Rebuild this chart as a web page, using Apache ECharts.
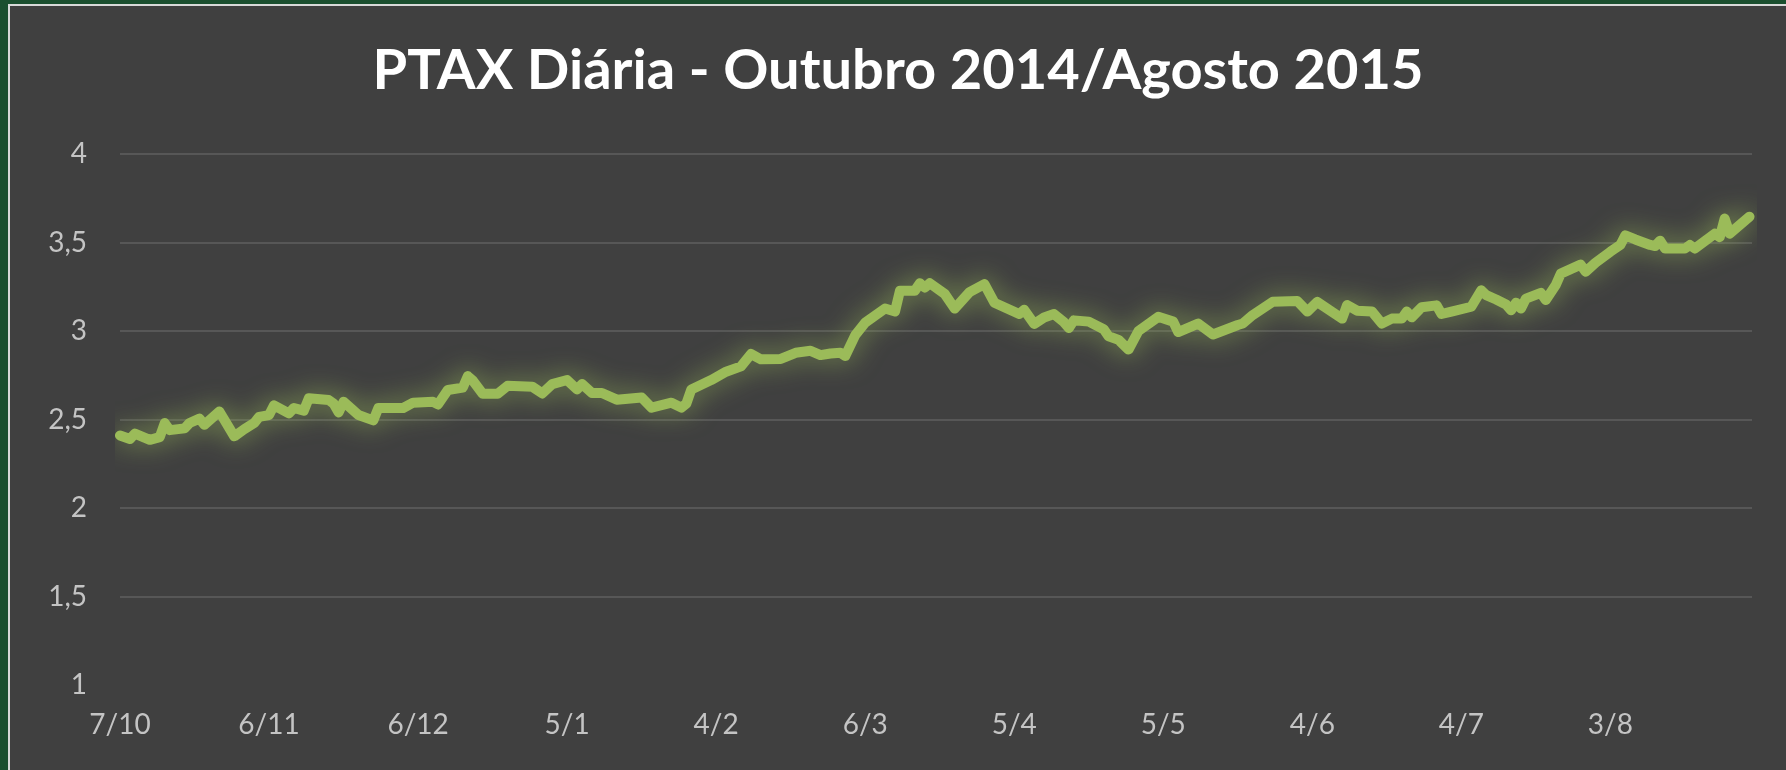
<!DOCTYPE html>
<html>
<head>
<meta charset="utf-8">
<title>PTAX Diária</title>
<script src="https://cdn.jsdelivr.net/npm/echarts@6/dist/echarts.min.js"></script>
<style>
  html, body { margin: 0; padding: 0; width: 1786px; height: 770px; background: #1b4f2f; overflow: hidden; }
  #frame {
    position: absolute; left: 8px; top: 4px; width: 1778px; height: 766px;
    border-left: 2px solid #d9d9d9; border-top: 2px solid #d9d9d9;
    box-sizing: border-box; background: #404040;
  }
  #chart-container { width: 100%; height: 100%; }
</style>
</head>
<body>
<div id="frame"><div id="chart-container"></div></div>
<script>
// days counted from 07/10/2014 (date axis, one slot per calendar day)
const days = [
  0, 2, 3, 6, 8, 9, 10, 13, 14, 16, 17, 20, 23, 25, 27, 28, 30, 31, 34, 35,
  37, 38, 42, 43, 44, 45, 48, 50, 51, 52, 57, 59, 63, 64, 66, 69, 70, 71, 73, 76,
  78, 83, 85, 87, 90, 92, 93, 95, 97, 100, 105, 107, 111, 113, 114, 115, 119, 122, 125, 127,
  129, 133, 136, 139, 141, 143, 145, 146, 148, 150, 154, 156, 157, 160, 161, 162, 163, 166, 168, 171,
  174, 176, 181, 182, 184, 186, 188, 190, 191, 192, 195, 198, 199, 201, 203, 205, 209, 212, 213, 217,
  220, 225, 226, 228, 232, 237, 239, 241, 246, 247, 249, 252, 254, 256, 258, 259, 260, 262, 265, 266,
  268, 272, 274, 275, 277, 279, 280, 281, 282, 283, 286, 287, 289, 290, 294, 295, 297, 300, 302, 303,
  305, 308, 309, 310, 311, 315, 316, 317, 321, 322, 323, 324, 328
];

const ptax = [
  2.41, 2.39, 2.42, 2.385, 2.40, 2.48, 2.44, 2.45, 2.48, 2.505, 2.47, 2.545, 2.405, 2.445, 2.48, 2.515, 2.525, 2.58, 2.535, 2.565,
  2.55, 2.62, 2.61, 2.59, 2.54, 2.60, 2.525, 2.505, 2.495, 2.565, 2.565, 2.595, 2.60, 2.585, 2.667, 2.68, 2.745, 2.72, 2.645, 2.645,
  2.69, 2.685, 2.647, 2.70, 2.723, 2.67, 2.70, 2.65, 2.65, 2.612, 2.624, 2.567, 2.595, 2.567, 2.59, 2.67, 2.723, 2.77, 2.80, 2.87,
  2.84, 2.842, 2.877, 2.888, 2.864, 2.873, 2.877, 2.859, 2.977, 3.047, 3.127, 3.11, 3.228, 3.228, 3.27, 3.245, 3.27, 3.21, 3.127, 3.22,
  3.265, 3.16, 3.096, 3.12, 3.04, 3.076, 3.096, 3.05, 3.017, 3.06, 3.053, 3.01, 2.97, 2.95, 2.895, 3.0, 3.08, 3.053, 2.994, 3.042,
  2.98, 3.034, 3.042, 3.09, 3.165, 3.169, 3.11, 3.164, 3.07, 3.147, 3.115, 3.11, 3.042, 3.07, 3.07, 3.11, 3.077, 3.134, 3.145, 3.096,
  3.11, 3.137, 3.23, 3.203, 3.178, 3.15, 3.117, 3.16, 3.127, 3.183, 3.215, 3.175, 3.26, 3.324, 3.375, 3.335, 3.386, 3.448, 3.486, 3.54,
  3.517, 3.486, 3.48, 3.51, 3.466, 3.466, 3.486, 3.466, 3.55, 3.53, 3.635, 3.55, 3.646
];

// one label every 30 days
const tickLabels = ['7/10', '6/11', '6/12', '5/1', '4/2', '6/3', '5/4', '5/5', '4/6', '4/7', '3/8'];

const chart = echarts.init(document.getElementById('chart-container'), null, { renderer: 'canvas' });

const labelFont = 'Lato, "Noto Sans", sans-serif';

chart.setOption({
  animation: false,
  backgroundColor: '#404040',
  title: {
    text: 'PTAX Diária - Outubro 2014/Agosto 2015',
    left: 'center',
    top: 32,
    padding: [5, 5, 5, 21],
    textStyle: {
      color: '#ffffff',
      fontFamily: labelFont,
      fontWeight: 'bold',
      fontSize: 56,
    },
  },
  grid: {
    left: 110,
    right: 34,
    top: 148,
    bottom: 85,
  },
  xAxis: {
    type: 'value',
    min: 0,
    max: 328.5,
    interval: 30,
    axisLine: { show: false },
    axisTick: { show: false },
    splitLine: { show: false },
    axisLabel: {
      color: '#c4c4c4',
      fontFamily: labelFont,
      fontSize: 28,
      margin: 26,
      showMaxLabel: false,
      formatter: (v) => (v % 30 === 0 ? tickLabels[v / 30] || '' : ''),
    },
  },
  yAxis: {
    type: 'value',
    min: 1,
    max: 4,
    interval: 0.5,
    axisLine: { show: false },
    axisTick: { show: false },
    splitLine: { showMinLine: false, lineStyle: { color: '#575757', width: 2 } },
    axisLabel: {
      color: '#c4c4c4',
      fontFamily: labelFont,
      fontSize: 28,
      margin: 33,
      formatter: (v) => String(v).replace('.', ','),
    },
  },
  series: [
    {
      type: 'line',
      data: days.map((d, i) => [d, ptax[i]]),
      symbol: 'none',
      lineStyle: {
        color: '#9bbb59',
        width: 10,
        cap: 'round',
        join: 'round',
        shadowBlur: 26,
        shadowColor: 'rgba(155, 187, 89, 0.75)',
      },
    },
  ],
});
</script>
</body>
</html>
